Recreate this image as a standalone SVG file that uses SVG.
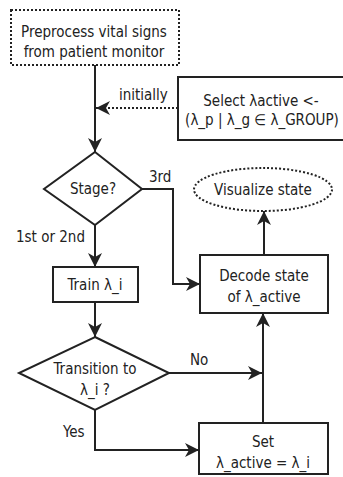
<svg xmlns="http://www.w3.org/2000/svg" width="343" height="477" viewBox="0 0 343 477">
  <defs>
    <style>
      .box { fill: #ffffff; stroke: #222222; stroke-width: 2; }
      .dotted { fill: #ffffff; stroke: #222222; stroke-width: 2; stroke-dasharray: 2 2; }
      .edge { fill: none; stroke: #222222; stroke-width: 2; }
      .edge-dotted { fill: none; stroke: #222222; stroke-width: 2; stroke-dasharray: 2 2; }
      text { font-family: "DejaVu Sans Condensed", "DejaVu Sans", "Liberation Sans", sans-serif; font-size: 15px; fill: #222222; text-anchor: middle; }
      .lbl { text-anchor: start; }
    </style>
    <marker id="arrow" viewBox="0 0 14 14" refX="14" refY="7" markerWidth="14" markerHeight="14" markerUnits="userSpaceOnUse" orient="auto">
      <path d="M0,0 L14,7 L0,14 L4,7 Z" fill="#222222"/>
    </marker>
  </defs>

  <rect width="343" height="477" fill="#ffffff"/>

  <!-- connectors -->
  <g id="connectors">
    <line class="edge" x1="95" y1="65" x2="95" y2="152" marker-end="url(#arrow)"/>
    <line class="edge-dotted" x1="178" y1="108" x2="96" y2="108" marker-end="url(#arrow)"/>
    <line class="edge" x1="95" y1="225" x2="95" y2="267" marker-end="url(#arrow)"/>
    <polyline class="edge" points="142,189 173,189 173,284 200,284" marker-end="url(#arrow)"/>
    <line class="edge" x1="264" y1="255" x2="264" y2="211" marker-end="url(#arrow)"/>
    <line class="edge" x1="95" y1="302" x2="95" y2="337" marker-end="url(#arrow)"/>
    <line class="edge" x1="169" y1="373" x2="262" y2="373" marker-end="url(#arrow)"/>
    <line class="edge" x1="263" y1="423" x2="263" y2="313" marker-end="url(#arrow)"/>
    <polyline class="edge" points="95,410 95,450 199,450" marker-end="url(#arrow)"/>
    <text class="lbl" x="119" y="100">initially</text>
    <text class="lbl" x="149" y="182">3rd</text>
    <text class="lbl" x="16" y="242">1st or 2nd</text>
    <text class="lbl" x="190" y="365">No</text>
    <text class="lbl" x="63" y="437">Yes</text>
  </g>

  <g id="preprocess">
    <rect class="dotted" x="11" y="10" width="168" height="55"/>
    <text x="94" y="37">Preprocess vital signs</text>
    <text x="94" y="57">from patient monitor</text>
  </g>

  <!-- right edge runs past the canvas border -->
  <g id="select">
    <rect class="box" x="178" y="77" width="170" height="63"/>
    <text x="261" y="106">Select λactive &lt;-</text>
    <text x="262" y="125">(λ_p | λ_g ∈ λ_GROUP)</text>
  </g>

  <g id="stage">
    <polygon class="box" points="95,152 142,189 95,225 44,189"/>
    <text x="93" y="194">Stage?</text>
  </g>

  <g id="visualize">
    <ellipse class="dotted" cx="263" cy="189.5" rx="69" ry="21.5"/>
    <text x="263" y="195">Visualize state</text>
  </g>

  <g id="train">
    <rect class="box" x="53" y="267" width="85" height="35"/>
    <text x="95" y="290">Train λ_i</text>
  </g>

  <g id="decode">
    <rect class="box" x="200" y="255" width="128" height="58"/>
    <text x="264" y="281">Decode state</text>
    <text x="264" y="302">of λ_active</text>
  </g>

  <g id="transition">
    <polygon class="box" points="95,337 169,373 95,410 19,373"/>
    <text x="95" y="374">Transition to</text>
    <text x="95" y="395">λ_i ?</text>
  </g>

  <g id="set">
    <rect class="box" x="199" y="423" width="129" height="51"/>
    <text x="263" y="447">Set</text>
    <text x="263" y="468">λ_active = λ_i</text>
  </g>
</svg>
